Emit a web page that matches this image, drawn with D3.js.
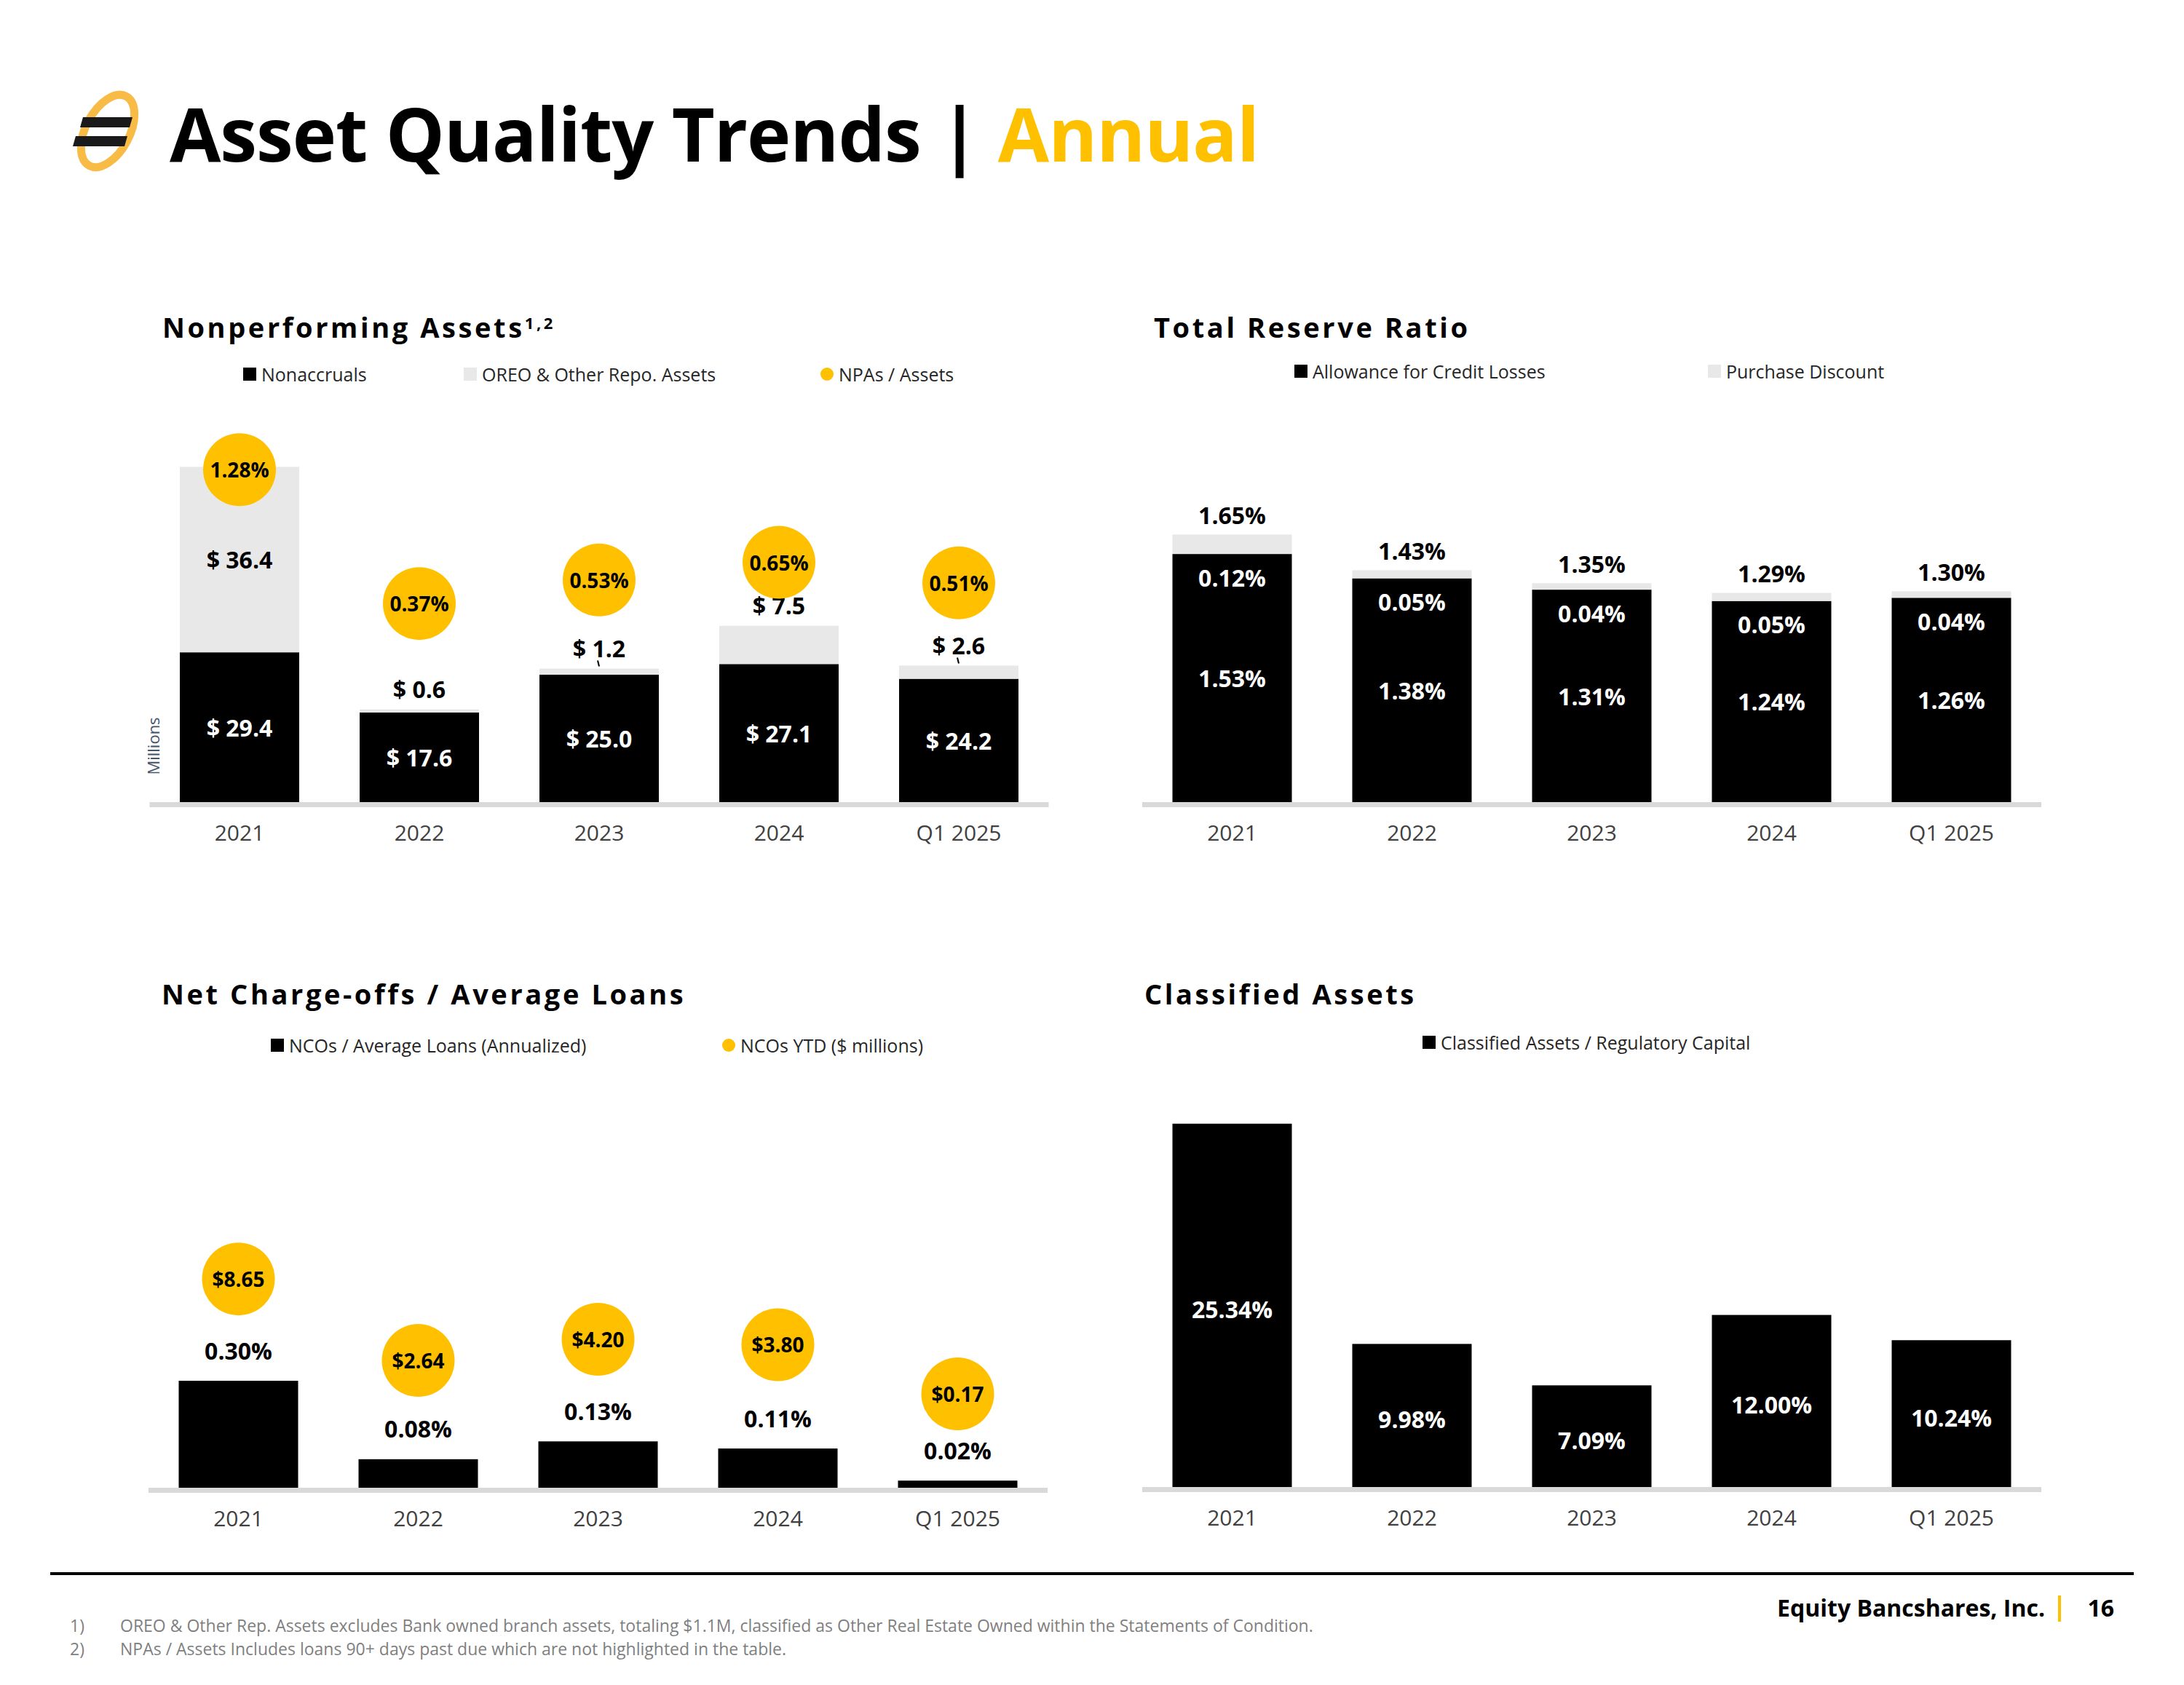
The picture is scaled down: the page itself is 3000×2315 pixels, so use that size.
<html>
<head>
<script src="https://d3js.org/d3.v7.min.js"></script>
<style>
  body { margin: 0; background: #fff; }
  text { font-family: "Open Sans", sans-serif; }
</style>
</head>
<body>
<script>
// ---- data ----
const years = ['2021', '2022', '2023', '2024', 'Q1 2025'];

// nonperforming assets ($ millions)
const nonaccruals = [29.4, 17.6, 25.0, 27.1, 24.2];
const oreo = [36.4, 0.6, 1.2, 7.5, 2.6];
const oreoLeader = [false, false, true, false, true];
const npaPct = [1.28, 0.37, 0.53, 0.65, 0.51];

// total reserve ratio (%)
const allowance = [1.53, 1.38, 1.31, 1.24, 1.26];
const discount = [0.12, 0.05, 0.04, 0.05, 0.04];
const totalReserve = [1.65, 1.43, 1.35, 1.29, 1.30];

// net charge-offs
const ncoPct = [0.30, 0.08, 0.13, 0.11, 0.02];
const ncoYtd = [8.65, 2.64, 4.20, 3.80, 0.17];

// classified assets / regulatory capital (%)
const classified = [25.34, 9.98, 7.09, 12.00, 10.24];

const footnotes = [
  'OREO & Other Rep. Assets excludes Bank owned branch assets, totaling $1.1M, classified as Other Real Estate Owned within the Statements of Condition.',
  'NPAs / Assets Includes loans 90+ days past due which are not highlighted in the table.'
];

const gold = '#FFC000';
const lightGray = '#e8e8e8';

const svg = d3.select('body').append('svg')
  .attr('width', 3000)
  .attr('height', 2315);

svg.append('rect').attr('width', 3000).attr('height', 2315).attr('fill', '#fff');

// ---- logo + header ----
const logo = svg.append('g');
logo.append('ellipse')
  .attr('cx', 148).attr('cy', 180).attr('rx', 30).attr('ry', 54)
  .attr('transform', 'rotate(28,148,180)')
  .attr('fill', 'none').attr('stroke', '#F8BB45').attr('stroke-width', 11);
logo.append('polygon').attr('points', '114,161 182,161 178,175 110,175').attr('fill', '#1a1a1a');
logo.append('polygon').attr('points', '104,187 175,187 171,201 100,201').attr('fill', '#1a1a1a');

const title = svg.append('text')
  .attr('x', 233).attr('y', 222)
  .style('font-size', '102px').style('font-weight', 700)
  .style('letter-spacing', '-1px');
title.append('tspan').text('Asset Quality Trends | ').attr('fill', '#000');
title.append('tspan').text('Annual').attr('fill', gold);

// ---- helpers ----
function panelTitle(x, y, txt, sup) {
  const t = svg.append('text')
    .attr('x', x).attr('y', y)
    .style('font-size', '38px').style('font-weight', 700)
    .style('letter-spacing', '3.6px')
    .attr('fill', '#000')
    .text(txt);
  if (sup) {
    t.append('tspan').attr('dy', -12).style('font-size', '22px').text(sup);
  }
}

function legendItem(x, y, shape, color, label) {
  if (shape === 'square') {
    svg.append('rect').attr('x', x).attr('y', y - 9).attr('width', 18).attr('height', 18).attr('fill', color);
  } else {
    svg.append('circle').attr('cx', x + 9).attr('cy', y).attr('r', 9).attr('fill', color);
  }
  svg.append('text')
    .attr('x', x + 25).attr('y', y)
    .attr('dominant-baseline', 'central')
    .style('font-size', '25px')
    .attr('fill', '#262626')
    .text(label);
}

function drawAxis(x, baseY) {
  const r = x.range();
  svg.append('rect')
    .attr('x', r[0]).attr('y', baseY)
    .attr('width', r[1] - r[0]).attr('height', 7)
    .attr('fill', '#d9d9d9');
  const g = svg.append('g')
    .attr('transform', 'translate(0,' + baseY + ')')
    .call(d3.axisBottom(x).tickSize(0).tickPadding(32));
  g.select('.domain').remove();
  g.selectAll('text')
    .style('font-family', '"Open Sans", sans-serif')
    .style('font-size', '30px')
    .attr('fill', '#404040');
}

function labels(data, xFn, yFn, txtFn, color, size) {
  svg.append('g').selectAll('text')
    .data(data)
    .enter()
    .append('text')
    .attr('x', xFn)
    .attr('y', yFn)
    .attr('text-anchor', 'middle')
    .attr('dominant-baseline', 'central')
    .style('font-size', size + 'px')
    .style('font-weight', 700)
    .attr('fill', color)
    .text(txtFn);
}

function bubbles(data, xFn, yFn, txtFn) {
  const g = svg.append('g');
  g.selectAll('circle')
    .data(data)
    .enter()
    .append('circle')
    .attr('cx', xFn)
    .attr('cy', yFn)
    .attr('r', 50)
    .attr('fill', gold);
  g.selectAll('text')
    .data(data)
    .enter()
    .append('text')
    .attr('x', xFn)
    .attr('y', yFn)
    .attr('text-anchor', 'middle')
    .attr('dominant-baseline', 'central')
    .style('font-size', '28px')
    .style('font-weight', 700)
    .attr('fill', '#000')
    .text(txtFn);
}

const fmt1 = d3.format('.1f');
const fmt2 = d3.format('.2f');

// ==== Panel 1: Nonperforming Assets ====
const x1 = d3.scaleBand().domain(years).range([205.5, 1440.5]).paddingInner(0.336).paddingOuter(0.168);
const y1 = d3.scaleLinear().domain([0, 70]).range([1102, 612]);
const y1pct = d3.scaleLinear().domain([-0.98, 1.4]).range([1102, 621]);

panelTitle(223, 464, 'Nonperforming Assets', '1,2');
legendItem(334, 514, 'square', '#000', 'Nonaccruals');
legendItem(637, 514, 'square', lightGray, 'OREO & Other Repo. Assets');
legendItem(1127, 514, 'circle', gold, 'NPAs / Assets');

const npaRows = years.map((d, i) => ({ year: d, nonaccruals: nonaccruals[i], oreo: oreo[i], pct: npaPct[i], leader: oreoLeader[i] }));
const npaStack = d3.stack().keys(['nonaccruals', 'oreo'])(npaRows);
const npaColor = { nonaccruals: '#000', oreo: lightGray };

svg.append('g').selectAll('g')
  .data(npaStack)
  .enter()
  .append('g')
  .attr('fill', d => npaColor[d.key])
  .selectAll('rect')
  .data(d => d)
  .enter()
  .append('rect')
  .attr('x', d => x1(d.data.year))
  .attr('y', d => y1(d[1]))
  .attr('width', x1.bandwidth())
  .attr('height', d => y1(d[0]) - y1(d[1]));

drawAxis(x1, 1102);

labels(npaRows, d => x1(d.year) + x1.bandwidth() / 2,
  d => (y1(0) + y1(d.nonaccruals)) / 2,
  d => '$ ' + fmt1(d.nonaccruals), '#fff', 32);

// oreo labels: inside when the segment is tall, above the stack otherwise
labels(npaRows, d => x1(d.year) + x1.bandwidth() / 2,
  d => d.oreo > 20 ? (y1(d.nonaccruals) + y1(d.nonaccruals + d.oreo)) / 2 : y1(d.nonaccruals + d.oreo) - 28,
  d => '$ ' + fmt1(d.oreo), '#000', 32);

svg.append('g').selectAll('line')
  .data(npaRows.filter(d => d.leader))
  .enter()
  .append('line')
  .attr('x1', d => x1(d.year) + x1.bandwidth() / 2)
  .attr('x2', d => x1(d.year) + x1.bandwidth() / 2 - 2)
  .attr('y1', d => y1(d.nonaccruals + d.oreo) - 3)
  .attr('y2', d => y1(d.nonaccruals + d.oreo) - 11)
  .attr('stroke', '#000').attr('stroke-width', 2);

bubbles(npaRows, d => x1(d.year) + x1.bandwidth() / 2, d => y1pct(d.pct), d => fmt2(d.pct) + '%');

// ==== Panel 2: Total Reserve Ratio ====
const x2 = d3.scaleBand().domain(years).range([1569, 2804]).paddingInner(0.336).paddingOuter(0.168);
const y2 = d3.scaleLinear().domain([0, 2]).range([1102, 656.4]);

panelTitle(1585, 464, 'Total Reserve Ratio');
legendItem(1778, 510, 'square', '#000', 'Allowance for Credit Losses');
legendItem(2346, 510, 'square', lightGray, 'Purchase Discount');

const resRows = years.map((d, i) => ({ year: d, allowance: allowance[i], discount: discount[i], total: totalReserve[i] }));
const resStack = d3.stack().keys(['allowance', 'discount'])(resRows);
const resColor = { allowance: '#000', discount: lightGray };

svg.append('g').selectAll('g')
  .data(resStack)
  .enter()
  .append('g')
  .attr('fill', d => resColor[d.key])
  .selectAll('rect')
  .data(d => d)
  .enter()
  .append('rect')
  .attr('x', d => x2(d.data.year))
  .attr('y', d => y2(d[1]))
  .attr('width', x2.bandwidth())
  .attr('height', d => y2(d[0]) - y2(d[1]));

drawAxis(x2, 1102);

const cx2 = d => x2(d.year) + x2.bandwidth() / 2;
labels(resRows, cx2, d => (y2(0) + y2(d.allowance)) / 2, d => fmt2(d.allowance) + '%', '#fff', 32);
labels(resRows, cx2, d => y2(d.allowance) + 32, d => fmt2(d.discount) + '%', '#fff', 32);
labels(resRows, cx2, d => y2(d.allowance + d.discount) - 27, d => fmt2(d.total) + '%', '#000', 32);

// ==== Panel 3: Net Charge-offs / Average Loans ====
const x3 = d3.scaleBand().domain(years).range([204, 1439]).paddingInner(0.336).paddingOuter(0.168);
const y3 = d3.scaleLinear().domain([0, 0.6]).range([2044, 1750]);
const y3ytd = d3.scaleLinear().domain([-6.75, 10]).range([2044, 1732]);

panelTitle(222, 1380, 'Net Charge-offs / Average Loans');
legendItem(372, 1436, 'square', '#000', 'NCOs / Average Loans (Annualized)');
legendItem(992, 1436, 'circle', gold, 'NCOs YTD ($ millions)');

const ncoRows = years.map((d, i) => ({ year: d, pct: ncoPct[i], ytd: ncoYtd[i] }));
const cx3 = d => x3(d.year) + x3.bandwidth() / 2;

svg.append('g').selectAll('rect')
  .data(ncoRows)
  .enter()
  .append('rect')
  .attr('x', d => x3(d.year))
  .attr('y', d => y3(d.pct))
  .attr('width', x3.bandwidth())
  .attr('height', d => y3(0) - y3(d.pct))
  .attr('fill', '#000');

drawAxis(x3, 2044);

labels(ncoRows, cx3, d => y3(d.pct) - 42, d => fmt2(d.pct) + '%', '#000', 32);
bubbles(ncoRows, cx3, d => y3ytd(d.ytd), d => '$' + fmt2(d.ytd));

// ==== Panel 4: Classified Assets ====
const x4 = d3.scaleBand().domain(years).range([1569, 2804]).paddingInner(0.336).paddingOuter(0.168);
const y4 = d3.scaleLinear().domain([0, 30]).range([2043, 1452]);

panelTitle(1572, 1380, 'Classified Assets');
legendItem(1954, 1432, 'square', '#000', 'Classified Assets / Regulatory Capital');

const clsRows = years.map((d, i) => ({ year: d, value: classified[i] }));

svg.append('g').selectAll('rect')
  .data(clsRows)
  .enter()
  .append('rect')
  .attr('x', d => x4(d.year))
  .attr('y', d => y4(d.value))
  .attr('width', x4.bandwidth())
  .attr('height', d => y4(0) - y4(d.value))
  .attr('fill', '#000');

drawAxis(x4, 2043);

labels(clsRows, d => x4(d.year) + x4.bandwidth() / 2,
  d => (y4(0) + y4(d.value)) / 2 + 5, d => fmt2(d.value) + '%', '#fff', 32);

// ---- footer ----
svg.append('rect').attr('x', 69).attr('y', 2160).attr('width', 2862).attr('height', 4).attr('fill', '#000');

svg.append('text')
  .attr('x', 2809).attr('y', 2221)
  .attr('text-anchor', 'end')
  .style('font-size', '32px').style('font-weight', 700)
  .attr('fill', '#000')
  .text('Equity Bancshares, Inc.');
svg.append('rect').attr('x', 2827).attr('y', 2192).attr('width', 4).attr('height', 36).attr('fill', gold);
svg.append('text')
  .attr('x', 2904).attr('y', 2221)
  .attr('text-anchor', 'end')
  .style('font-size', '32px').style('font-weight', 700)
  .attr('fill', '#000')
  .text('16');

svg.append('g').selectAll('g')
  .data(footnotes)
  .enter()
  .append('g')
  .each(function (d, i) {
    const g = d3.select(this);
    const y = 2233 + i * 32;
    g.append('text').attr('x', 96).attr('y', y).attr('dominant-baseline', 'central')
      .style('font-size', '23px').attr('fill', '#7f7f7f').text((i + 1) + ')');
    g.append('text').attr('x', 165).attr('y', y).attr('dominant-baseline', 'central')
      .style('font-size', '23px').attr('fill', '#7f7f7f').text(d);
  });

// Millions axis title for panel 1
svg.append('text')
  .attr('transform', 'translate(210,1025) rotate(-90)')
  .attr('text-anchor', 'middle')
  .attr('dominant-baseline', 'central')
  .style('font-size', '22px')
  .attr('fill', '#44546A')
  .text('Millions');
</script>
</body>
</html>
